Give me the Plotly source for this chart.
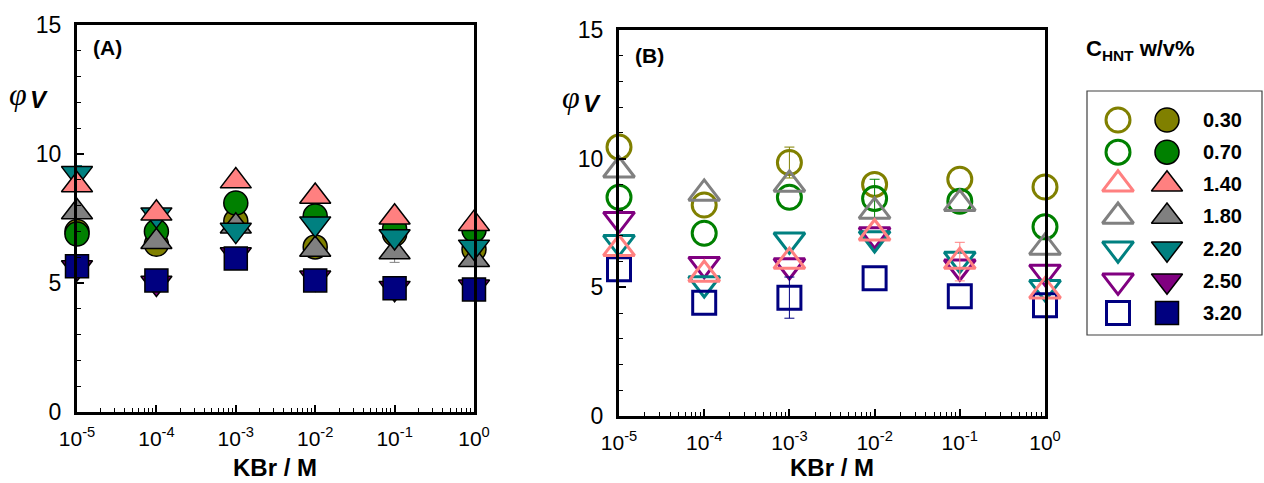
import plotly.graph_objects as go

# ---------------- data ----------------
kbr = [1e-5, 1e-4, 1e-3, 1e-2, 1e-1, 1e0]
x_tickvals = [1e-5, 1e-4, 1e-3, 1e-2, 1e-1, 1e0]
x_ticktext = ["10<sup>-5</sup>", "10<sup>-4</sup>", "10<sup>-3</sup>",
              "10<sup>-2</sup>", "10<sup>-1</sup>", "10<sup>0</sup>"]
y_tickvals = [0, 5, 10, 15]
conc_labels = ["0.30", "0.70", "1.40", "1.80", "2.20", "2.50", "3.20"]

# Panel (A) - filled symbols
a_030 = [7.0, 6.5, 7.4, 6.4, 6.9, 6.3]
a_070 = [6.9, 7.0, 8.1, 7.6, 7.1, 7.05]
a_140 = [8.8, 7.7, 8.95, 8.35, 7.55, 7.3]
a_180 = [7.75, 6.6, 7.2, 6.3, 6.2, 5.9]
a_220 = [9.25, 7.65, 7.05, 7.3, 6.8, 6.4]
a_250 = [5.6, 5.0, 6.1, 5.2, 4.8, 4.85]
a_320 = [5.65, 5.1, 5.95, 5.1, 4.8, 4.75]

# Panel (B) - open symbols
b_030 = [10.45, 8.2, 9.85, 9.0, 9.2, 8.9]
b_070 = [8.5, 7.1, 8.5, 8.45, 8.35, 7.35]
b_140 = [6.5, 5.5, 6.0, 7.1, 6.0, 4.85]
b_180 = [9.55, 8.65, 9.0, 7.95, 8.25, 6.55]
b_220 = [6.75, 5.15, 6.85, 6.9, 6.1, 5.0]
b_250 = [7.65, 5.9, 5.85, 7.05, 5.8, 5.6]
b_320 = [5.7, 4.4, 4.6, 5.35, 4.65, 4.3]

# error bars (symmetric; None = no visible bar)
a_err_180 = [None, None, None, None, 0.4, None]
a_err_220 = [0.3, None, None, None, None, None]
b_err_030 = [None, None, 0.6, None, None, None]
b_err_070 = [None, None, None, 0.75, None, None]
b_err_140 = [None, None, None, None, 0.75, None]
b_err_320 = [None, None, 0.8, None, None, None]

# ---------------- styles ----------------
colors = {"0.30": "#808000", "0.70": "#008000", "1.40": "#FF8080", "1.80": "#808080",
          "2.20": "#008080", "2.50": "#800080", "3.20": "#000080"}
symbols = {"0.30": "circle", "0.70": "circle", "1.40": "triangle-up", "1.80": "triangle-up",
           "2.20": "triangle-down", "2.50": "triangle-down", "3.20": "square"}
sizes = {"circle": 24, "triangle-up": 27, "triangle-down": 27, "square": 23}

A = {"0.30": (a_030, None), "0.70": (a_070, None), "1.40": (a_140, None),
     "1.80": (a_180, a_err_180), "2.20": (a_220, a_err_220), "2.50": (a_250, None),
     "3.20": (a_320, None)}
B = {"0.30": (b_030, b_err_030), "0.70": (b_070, b_err_070), "1.40": (b_140, b_err_140),
     "1.80": (b_180, None), "2.20": (b_220, None), "2.50": (b_250, None),
     "3.20": (b_320, b_err_320)}

draw_order_a = ["0.30", "0.70", "1.80", "2.20", "2.50", "3.20", "1.40"]
draw_order_b = ["0.30", "0.70", "1.80", "2.50", "2.20", "3.20", "1.40"]

W, H = 1264, 483
FONT = "Arial, 'Liberation Sans', sans-serif"

fig = go.Figure()


def add_series(y, e, key, xa, ya, is_open):
    sym = symbols[key]
    if e is not None:
        idx = [i for i, v in enumerate(e) if v is not None]
        fig.add_trace(go.Scatter(
            x=[kbr[i] for i in idx], y=[y[i] for i in idx], mode="markers",
            xaxis=xa, yaxis=ya, showlegend=False, cliponaxis=False, hoverinfo="skip",
            marker=dict(size=1, opacity=0),
            error_y=dict(type="data", array=[e[i] for i in idx], visible=True,
                         color=colors[key], thickness=1, width=5)))
    if is_open:
        marker = dict(symbol=sym + "-open", size=sizes[sym], color=colors[key],
                      line=dict(color=colors[key], width=3))
    else:
        marker = dict(symbol=sym, size=sizes[sym], color=colors[key],
                      line=dict(color="black", width=1.5))
    fig.add_trace(go.Scatter(x=kbr, y=y, mode="markers", xaxis=xa, yaxis=ya,
                             showlegend=False, cliponaxis=False, marker=marker))


for key in draw_order_a:
    add_series(A[key][0], A[key][1], key, "x", "y", False)
for key in draw_order_b:
    add_series(B[key][0], B[key][1], key, "x2", "y2", True)

# ---------------- legend (drawn in its own pixel-space axes) ----------------
box_l, box_r, box_t, box_b = 1087, 1263, 91, 335
row_top, row_bot = 120, 313
n = len(conc_labels)
row_y = [row_top + i * (row_bot - row_top) / (n - 1) for i in range(n)]
x_open, x_fill, x_text = 1118, 1167, 1201

for i, key in enumerate(conc_labels):
    sym = symbols[key]
    fig.add_trace(go.Scatter(
        x=[x_open], y=[row_y[i]], mode="markers", xaxis="x3", yaxis="y3", showlegend=False,
        cliponaxis=False,
        marker=dict(symbol=sym + "-open", size=sizes[sym], color=colors[key],
                    line=dict(color=colors[key], width=3))))
    fig.add_trace(go.Scatter(
        x=[x_fill], y=[row_y[i]], mode="markers", xaxis="x3", yaxis="y3", showlegend=False,
        cliponaxis=False,
        marker=dict(symbol=sym, size=sizes[sym], color=colors[key],
                    line=dict(color="black", width=1.5))))

annotations = []
for i, key in enumerate(conc_labels):
    annotations.append(dict(x=x_text, y=row_y[i], xref="x3", yref="y3", text="<b>" + key + "</b>",
                            showarrow=False, xanchor="left", yanchor="middle",
                            font=dict(family=FONT, size=20, color="black")))


def px_x(p):
    return p / W


def px_y(p):
    return 1 - p / H


# axis styling
def xstyle(domain, anchor):
    minor_vals = [m * 10 ** d for d in range(-5, 0) for m in range(2, 10)]
    return dict(type="log", range=[-5, 0], domain=domain, anchor=anchor, automargin=False,
                showline=True, linewidth=3, linecolor="black", mirror=True,
                ticks="inside", ticklen=7, tickwidth=1.5, tickcolor="black",
                tickmode="array", tickvals=x_tickvals, ticktext=x_ticktext,
                tickfont=dict(family=FONT, size=21, color="black"),
                ticklabelstandoff=6,
                minor=dict(tickmode="array", tickvals=minor_vals, ticks="inside",
                           ticklen=4, tickwidth=1, tickcolor="black", showgrid=False),
                showgrid=False, zeroline=False, layer="above traces")


def ystyle(domain, anchor):
    return dict(range=[0, 15], domain=domain, anchor=anchor, automargin=False,
                showline=True, linewidth=3, linecolor="black", mirror=True,
                ticks="inside", ticklen=7, tickwidth=1.5, tickcolor="black",
                tickmode="array", tickvals=y_tickvals,
                tickfont=dict(family=FONT, size=23, color="black"),
                ticklabelstandoff=8,
                minor=dict(tickmode="linear", tick0=0, dtick=1, ticks="inside",
                           ticklen=4, tickwidth=1, tickcolor="black", showgrid=False),
                showgrid=False, zeroline=False, layer="above traces")


# panel texts
for (xc, phi_x, phi_y) in [(275, 18, 94), (832, 571, 97)]:
    annotations.append(dict(x=px_x(xc), y=px_y(467), xref="paper", yref="paper",
                            text="<b>KBr / M</b>", showarrow=False,
                            xanchor="center", yanchor="middle",
                            font=dict(family=FONT, size=24, color="black")))
    annotations.append(dict(x=px_x(phi_x), y=px_y(phi_y), xref="paper", yref="paper",
                            text="<i>φ</i>", showarrow=False, xanchor="center", yanchor="middle",
                            font=dict(family="'Liberation Serif', 'Times New Roman', serif",
                                      size=32, color="black")))
    annotations.append(dict(x=px_x(phi_x + 21), y=px_y(phi_y + 6), xref="paper", yref="paper",
                            text="<b><i>V</i></b>", showarrow=False, xanchor="center",
                            yanchor="middle",
                            font=dict(family=FONT, size=24, color="black")))

annotations.append(dict(x=px_x(91), y=px_y(48), xref="paper", yref="paper", text="<b>(A)</b>",
                        showarrow=False, xanchor="left", yanchor="middle",
                        font=dict(family=FONT, size=21, color="black")))
annotations.append(dict(x=px_x(633), y=px_y(55), xref="paper", yref="paper", text="<b>(B)</b>",
                        showarrow=False, xanchor="left", yanchor="middle",
                        font=dict(family=FONT, size=21, color="black")))
annotations.append(dict(x=px_x(1084), y=px_y(50), xref="paper", yref="paper",
                        text="<b>C<sub>HNT</sub> w/v%</b>", showarrow=False,
                        xanchor="left", yanchor="middle",
                        font=dict(family=FONT, size=22, color="black")))

fig.update_layout(
    width=W, height=H, margin=dict(l=0, r=0, t=0, b=0, autoexpand=False),
    template="none",
    paper_bgcolor="white", plot_bgcolor="white", showlegend=False,
    xaxis=xstyle([px_x(77), px_x(474)], "y"),
    yaxis=ystyle([px_y(412), px_y(25)], "x"),
    xaxis2=xstyle([px_x(619), px_x(1045)], "y2"),
    yaxis2=ystyle([px_y(416), px_y(30)], "x2"),
    xaxis3=dict(domain=[px_x(box_l), px_x(box_r)], range=[box_l, box_r], anchor="y3",
                visible=False, fixedrange=True, automargin=False),
    yaxis3=dict(domain=[px_y(box_b), px_y(box_t)], range=[box_b, box_t], anchor="x3",
                visible=False, fixedrange=True, automargin=False),
    annotations=annotations,
    shapes=[dict(type="rect", xref="paper", yref="paper",
                 x0=px_x(box_l), x1=px_x(box_r - 1), y0=px_y(box_b), y1=px_y(box_t),
                 line=dict(color="#404040", width=1.2), fillcolor="rgba(0,0,0,0)")],
)

fig.write_html("out.html")
